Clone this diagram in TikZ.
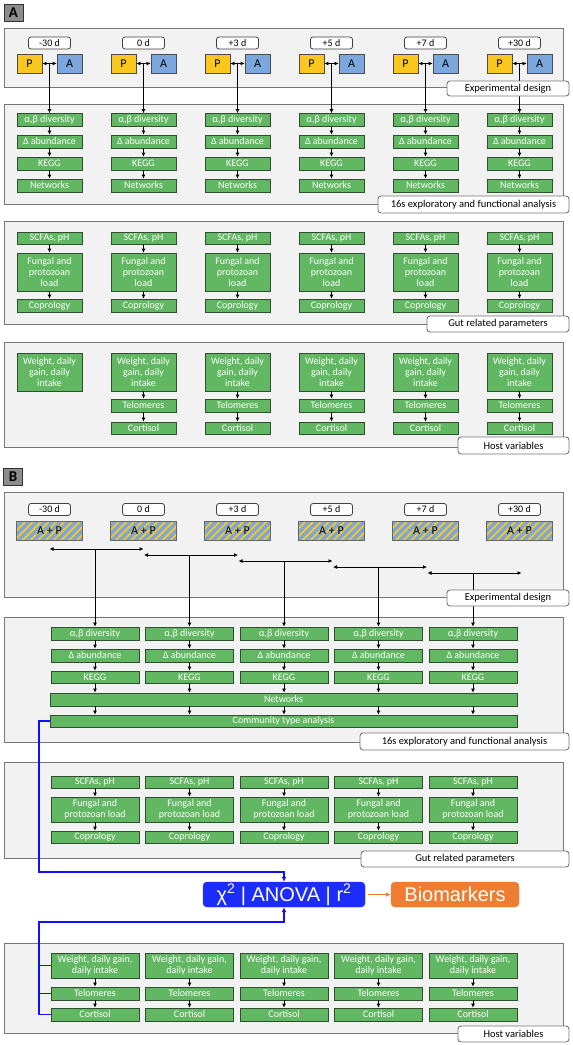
\documentclass[tikz,border=0pt]{standalone}
\usepackage{fontspec}
\setmainfont{Carlito}
\newfontfamily\statfont{Liberation Sans}
\usepackage{tikz}
\usetikzlibrary{arrows.meta,patterns.meta}
\definecolor{panelgray}{RGB}{242,242,242}
\definecolor{panelline}{RGB}{118,118,118}
\definecolor{boxgreen}{RGB}{98,183,99}
\definecolor{boxedge}{RGB}{48,78,48}
\definecolor{pyellow}{RGB}{250,198,32}
\definecolor{ablue}{RGB}{124,167,220}
\definecolor{statblue}{RGB}{28,44,250}
\definecolor{bioorange}{RGB}{237,125,49}
\definecolor{linkblue}{RGB}{16,16,255}

\begin{document}
\begin{tikzpicture}[x=1pt,y=-1pt,font=\fontsize{10}{10.8}\selectfont,
  panel/.style={draw=panelline, fill=panelgray, line width=0.9pt},
  tag/.style={draw=panelline, fill=white, rounded corners=3pt, line width=0.9pt, inner sep=0pt, font=\fontsize{10.5}{12}\selectfont},
  letter/.style={draw=black!80, fill=black!45, minimum width=19pt, minimum height=17pt, inner sep=0pt, line width=0.9pt, font=\fontsize{15}{16}\selectfont\bfseries},
  day/.style={draw=black!75, fill=white, rounded corners=2.5pt, minimum width=42pt, minimum height=12pt, inner sep=0pt, line width=0.8pt, font=\fontsize{10}{10}\selectfont},
  pa/.style={draw=black!70, minimum width=25pt, minimum height=19pt, inner sep=0pt, line width=0.8pt, font=\fontsize{12}{12}\selectfont},
  mix/.style={draw=black!60, preaction={fill=ablue}, pattern={Lines[angle=45,distance=5.5pt,line width=1.8pt]}, pattern color=pyellow, minimum width=66pt, minimum height=19pt, inner sep=0pt, line width=0.8pt, font=\fontsize{12}{12}\selectfont},
  gbox/.style={draw=boxedge, fill=boxgreen, text=white, minimum width=65pt, minimum height=13pt, inner sep=0pt, align=center, line width=0.8pt},
  wbox/.style={gbox, minimum width=88pt},
  flow/.style={-{Latex[length=4pt,width=4pt]}, line width=0.9pt},
  both/.style={{Latex[length=4pt,width=4pt]}-{Latex[length=4pt,width=4pt]}, line width=0.9pt},
  link/.style={draw=linkblue, line width=1.4pt}]

\useasboundingbox (0,0) rectangle (573,1045);

% ---------- A ----------
\node[letter] (labA) at (13.5,13) {A};
\draw[panel] (4,28) rectangle (563,87);
\draw[panel] (4,104) rectangle (563,204);
\draw[panel] (4,221) rectangle (563,324);
\draw[panel] (4,342) rectangle (563,447);

\foreach \x/\d [count=\i] in {49.5/-30 d,143.5/0 d,237.5/+3 d,331.5/+5 d,425.5/+7 d,519.5/+30 d}{
  \node[day] (dayA\i) at (\x,43) {\d};
  \node[pa, fill=pyellow] (pA\i) at (\x-20,63.5) {P};
  \node[pa, fill=ablue] (aA\i) at (\x+20,63.5) {A};
  \node[gbox] (divA\i) at (\x,120) {α,β diversity};
  \node[gbox] (abA\i) at (\x,141.5) {Δ abundance};
  \node[gbox] (keggA\i) at (\x,163.5) {KEGG};
  \node[gbox] (netA\i) at (\x,185.5) {Networks};
  \node[gbox, minimum height=12pt] (scA\i) at (\x,238) {SCFAs, pH};
  \node[gbox, minimum height=38pt] (fungA\i) at (\x,272) {Fungal and\\protozoan\\load};
  \node[gbox] (copA\i) at (\x,305.5) {Coprology};
  \node[gbox, minimum height=38pt] (wA\i) at (\x,372) {Weight, daily\\gain, daily\\intake};
  \draw[both] (pA\i) -- (aA\i);
  \draw[flow] (pA\i.east -| dayA\i) -- (divA\i);
  \draw[flow] (divA\i) -- (abA\i);
  \draw[flow] (abA\i) -- (keggA\i);
  \draw[flow] (keggA\i) -- (netA\i);
  \draw[flow] (scA\i) -- (fungA\i);
  \draw[flow] (fungA\i) -- (copA\i);
}
% no telomeres / cortisol at -30 d
\foreach \x [count=\i from 2] in {143.5,237.5,331.5,425.5,519.5}{
  \node[gbox] (telA\i) at (\x,405.5) {Telomeres};
  \node[gbox, minimum height=12pt] (corA\i) at (\x,428) {Cortisol};
  \draw[flow] (wA\i) -- (telA\i);
  \draw[flow] (telA\i) -- (corA\i);
}

% ---------- B ----------
\node[letter] (labB) at (13,476.5) {B};
\draw[panel] (4,492) rectangle (563,597);
\draw[panel] (4,617) rectangle (563,742);
\draw[panel] (4,762) rectangle (563,858);
\draw[panel] (4,943) rectangle (563,1033);

\foreach \x/\d [count=\i] in {49.5/-30 d,143.5/0 d,237.5/+3 d,331.5/+5 d,425.5/+7 d,519.5/+30 d}{
  \node[day] (dayB\i) at (\x,509.5) {\d};
  \node[mix] (mixB\i) at (\x,530.5) {A + P};
}

\node[wbox, minimum width=467pt] (netB) at (283.5,699.5) {Networks};
\node[wbox, minimum width=467pt, minimum height=12pt] (commB) at (283.5,721) {Community type analysis};

\foreach \x [count=\i] in {95,189.5,284,378.5,473}{
  \node[wbox] (divB\i) at (\x,633.5) {α,β diversity};
  \node[wbox] (abB\i) at (\x,655.5) {Δ abundance};
  \node[wbox, minimum height=12pt] (keggB\i) at (\x,677) {KEGG};
  \node[wbox, minimum height=12pt] (scB\i) at (\x,782) {SCFAs, pH};
  \node[wbox, minimum height=25pt] (fungB\i) at (\x,809.5) {Fungal and\\protozoan load};
  \node[wbox, minimum height=12pt] (copB\i) at (\x,837) {Coprology};
  \node[wbox, minimum height=25pt] (wB\i) at (\x,965.5) {Weight, daily gain,\\daily intake};
  \node[wbox] (telB\i) at (\x,993.5) {Telomeres};
  \node[wbox] (corB\i) at (\x,1014.5) {Cortisol};
  \coordinate (hl\i) at (\x-45.5,543+6*\i);
  \coordinate (hr\i) at (\x+48.5,543+6*\i);
  \draw[both] (hl\i) -- (hr\i);
  \draw[flow] (hl\i -| divB\i) -- (divB\i);
  \draw[flow] (divB\i) -- (abB\i);
  \draw[flow] (abB\i) -- (keggB\i);
  \draw[flow] (keggB\i) -- (keggB\i |- netB.north);
  \draw[flow] (keggB\i |- netB.south) -- (keggB\i |- commB.north);
  \draw[flow] (scB\i) -- (fungB\i);
  \draw[flow] (fungB\i) -- (copB\i);
  \draw[flow] (wB\i) -- (telB\i);
  \draw[flow] (telB\i) -- (corB\i);
}

% statistics
\node[draw=statblue, fill=statblue, rounded corners=4pt, text=white, minimum width=162pt, minimum height=25pt, inner sep=0pt, font=\statfont\fontsize{20}{22}\selectfont] (stats) at (284,894.5) {χ\textsuperscript{2} | ANOVA | r\textsuperscript{2}};
\node[draw=bioorange, fill=bioorange, rounded corners=4pt, text=white, minimum width=128pt, minimum height=25pt, inner sep=0pt, font=\statfont\fontsize{20}{22}\selectfont] (bio) at (455,894.5) {Biomarkers};
\draw[-{Latex[length=5pt,width=5pt]}, draw=bioorange, fill=bioorange, line width=1.3pt, shorten <=3pt] (stats) -- (bio);

\coordinate (busT) at (39,872);
\coordinate (busB) at (39,922);
\draw[link, -{Latex[length=5pt,width=5pt]}] (commB.west) -| (busT) -| (stats.north);
\draw[link, -{Latex[length=5pt,width=5pt]}] (corB1.west) -| (busB) -| (stats.south);
\draw[link] (wB1.west) -- (wB1.west -| busB);
\draw[link] (telB1.west) -- (telB1.west -| busB);

% panel tags
\node[tag, minimum width=122pt, minimum height=15pt] (tagExpA) at (508,88.5) {Experimental design};
\node[tag, minimum width=191pt, minimum height=17pt] (tagSeqA) at (473.5,204.5) {16s exploratory and functional analysis};
\node[tag, minimum width=142pt, minimum height=16pt] (tagGutA) at (498,324) {Gut related parameters};
\node[tag, minimum width=111pt, minimum height=17pt] (tagHostA) at (513.5,445.5) {Host variables};
\node[tag, minimum width=122pt, minimum height=16pt] (tagExpB) at (508,598) {Experimental design};
\node[tag, minimum width=209pt, minimum height=17pt] (tagSeqB) at (464.5,741.5) {16s exploratory and functional analysis};
\node[tag, minimum width=208pt, minimum height=16pt] (tagGutB) at (465,859) {Gut related parameters};
\node[tag, minimum width=111pt, minimum height=16pt] (tagHostB) at (513.5,1034) {Host variables};
\end{tikzpicture}
\end{document}
